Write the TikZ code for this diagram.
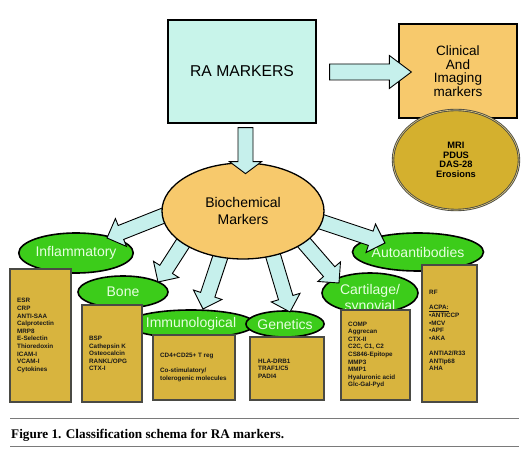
\documentclass[tikz,border=0pt]{standalone}
\usepackage{fontspec}
\setmainfont{Liberation Sans}
\newfontfamily\capfont{Liberation Serif}
\usetikzlibrary{calc,shapes.geometric}
\definecolor{cyanfill}{HTML}{C8F4EA}
\definecolor{arrfill}{HTML}{C6F0EC}
\definecolor{orangefill}{HTML}{F7C96C}
\definecolor{olivefill}{HTML}{D4B02E}
\definecolor{greenfill}{HTML}{3CCC1A}
\definecolor{greentext}{HTML}{E6FFE0}
\definecolor{yellowbox}{HTML}{D8B43E}
\definecolor{boxedge}{HTML}{4A4A44}
\definecolor{rulegray}{HTML}{7A7A7A}
\newcommand\blockarrow[5]{%
  \coordinate (hb) at ($(#2)!#5!(#1)$);
  \filldraw[barrow] ($(#1)!#3!90:(#2)$) -- ($(hb)!#3!90:(#2)$) -- ($(hb)!#4!90:(#2)$) -- (#2)
    -- ($(hb)!#4!-90:(#2)$) -- ($(hb)!#3!-90:(#2)$) -- ($(#1)!#3!-90:(#2)$) -- cycle;}
\tikzset{
  barrow/.style={fill=arrfill, draw=black, line width=0.9pt, line join=miter},
  greenell/.style={ellipse, fill=greenfill, draw=black, line width=1.6pt, inner sep=0pt,
    text=greentext, font=\fontsize{14}{16}\selectfont, align=center},
  ybox/.style={rectangle, fill=yellowbox, draw=boxedge, line width=2pt, inner sep=0pt},
  ytext/.style={anchor=west, align=left, inner sep=0pt, text=black!90,
    font=\fontsize{6.3}{7.6}\selectfont\bfseries},
}
\begin{document}
\begin{tikzpicture}[x=1pt, y=-1pt]
\useasboundingbox (0,0) rectangle (531,457);
\fill[white] (0,0) rectangle (531,457);
% green category ellipses
\node[greenell, minimum width=94, minimum height=40] (infl) at (76,253) {Inflammatory};
\node[greenell, minimum width=90, minimum height=32] (bone) at (123,292) {Bone};
\node[greenell, minimum width=92, minimum height=28] (immu) at (191,324) {Immunological};
\node[greenell, minimum width=76, minimum height=26] (gene) at (285,324) {Genetics};
\node[greenell, minimum width=96, minimum height=40] (cart) at (370,293) {};
\node[inner sep=0pt, align=center, text=greentext, font=\fontsize{14}{16}\selectfont] (cartt) at (370,299) {Cartilage/\\synovial};
\node[greenell, minimum width=100, minimum height=38] (auto) at (418,252) {Autoantibodies};
% yellow boxes
\node[ybox, minimum width=61, minimum height=133] (b1) at (40.5,335.5) {};
\node[ybox, minimum width=60, minimum height=97] (b2) at (112,353.5) {};
\node[ybox, minimum width=82, minimum height=65] (b3) at (194,367.5) {};
\node[ybox, minimum width=74, minimum height=63] (b4) at (287,368.5) {};
\node[ybox, minimum width=69, minimum height=90] (b5) at (375.5,355) {};
\node[ybox, minimum width=55, minimum height=137] (b6) at (449.5,333.5) {};
\node[ytext] (t1) at ($(b1.west)+(8,0)$) {ESR\\CRP\\ANTI-SAA\\Calprotectin\\MRP8\\E-Selectin\\Thioredoxin\\ICAM-I\\VCAM-I\\Cytokines};
\node[ytext] (t2) at ($(b2.west)+(8,0)$) {BSP\\Cathepsin K\\Osteocalcin\\RANKL/OPG\\CTX-I};
\node[ytext] (t3) at ($(b3.west)+(8,0)$) {CD4+CD25+ T reg\\[7.6pt]Co-stimulatory/\\tolerogenic molecules};
\node[ytext] (t4) at ($(b4.west)+(9,0)$) {HLA-DRB1\\TRAF1/C5\\PADI4};
\node[ytext] (t5) at ($(b5.west)+(8,0)$) {COMP\\Aggrecan\\CTX-II\\C2C, C1, C2\\CS846-Epitope\\MMP3\\MMP1\\Hyaluronic acid\\Glc-Gal-Pyd};
\node[ytext] (t6) at ($(b6.west)+(8,-3)$) {RF\\[7.6pt]\underline{ACPA:}\\\textbullet ANTICCP\\\textbullet MCV\\\textbullet APF\\\textbullet AKA\\[7.6pt]ANTIA2/R33\\ANTIp68\\AHA};
% arrows from biochemical markers
\coordinate (s1) at (201.5,200.5); \coordinate (e1) at (107,238);
\coordinate (s2) at (198.5,219);   \coordinate (e2) at (158,282);
\coordinate (s3) at (229.6,229);   \coordinate (e3) at (203,309);
\coordinate (s4) at (264.8,228);   \coordinate (e4) at (290,312);
\coordinate (s5) at (280.5,215.5); \coordinate (e5) at (339,283);
\coordinate (s6) at (281.5,208.5); \coordinate (e6) at (385,243);
\blockarrow{s1}{e1}{7.5pt}{15pt}{15pt}
\blockarrow{s2}{e2}{7.5pt}{15pt}{15pt}
\blockarrow{s3}{e3}{7.5pt}{15pt}{15pt}
\blockarrow{s4}{e4}{7.5pt}{15pt}{15pt}
\blockarrow{s5}{e5}{7.5pt}{15pt}{15pt}
\blockarrow{s6}{e6}{7.5pt}{15pt}{15pt}
% biochemical ellipse
\node[ellipse, fill=orangefill, draw=black, line width=1.3pt, minimum width=162, minimum height=96, inner sep=0pt,
  align=center, font=\fontsize{14}{17}\selectfont] (bio) at (243,211) {Biochemical\\Markers};
% top boxes
\node[rectangle, fill=cyanfill, draw=black, line width=1.3pt, minimum width=148, minimum height=103,
  font=\fontsize{15.7}{18}\selectfont] (ra) at (242,71.5) {RA MARKERS};
\node[rectangle, fill=orangefill, draw=black, line width=1.3pt, minimum width=118, minimum height=94,
  align=center, font=\fontsize{13.5}{13.5}\selectfont] (cli) at (458,71) {Clinical\\And\\Imaging\\markers};
\coordinate (ac1) at ($(ra.east)+(13,0.5)$);
\coordinate (ac2) at ($(cli.west)+(13,1)$);
\blockarrow{ac1}{ac2}{8pt}{16.5pt}{22pt}
\coordinate (ad1) at ($(ra.south)+(3.5,4)$);
\coordinate (ad2) at ($(ra.south)+(3.5,50)$);
\blockarrow{ad1}{ad2}{7.5pt}{16pt}{12pt}
\node[ellipse, fill=olivefill, draw=boxedge, double=olivefill!60!white, double distance=0.6pt, line width=0.9pt,
  minimum width=126, minimum height=100, inner sep=0pt, align=center,
  font=\fontsize{9.3}{9.5}\selectfont\bfseries] (img) at (456,160) {MRI\\PDUS\\DAS-28\\Erosions};
% caption
\coordinate (r1a) at (10,419); \coordinate (r1b) at (519,419);
\coordinate (r2a) at (10,447); \coordinate (r2b) at (519,447);
\draw[rulegray, line width=1pt] (r1a) -- (r1b);
\draw[rulegray, line width=1pt] (r2a) -- (r2b);
\node[anchor=base west, inner sep=0pt, font=\capfont\fontsize{13.2}{15}\selectfont\bfseries] (cap) at (11,438.5)
  {Figure 1. Classification schema for RA markers.};
\end{tikzpicture}
\end{document}
